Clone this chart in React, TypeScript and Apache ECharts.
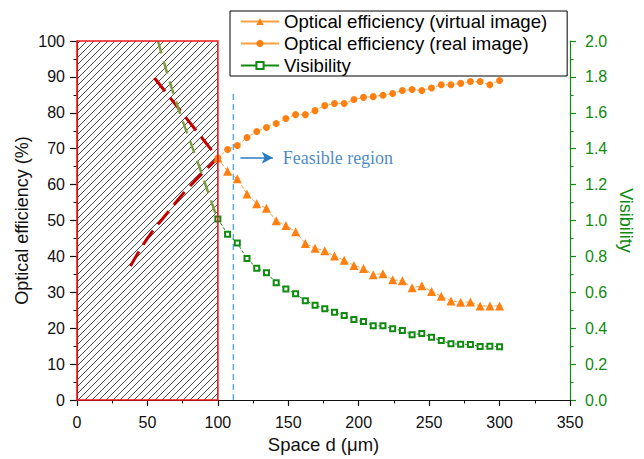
import React, { useEffect, useRef } from "react";
import * as echarts from "echarts";

// ---- data ----
const spaceD = [
  100, 106.9, 113.8, 120.7, 127.6, 134.5, 141.4, 148.3, 155.2, 162.1,
  169.0, 175.9, 182.8, 189.7, 196.6, 203.4, 210.3, 217.2, 224.1, 231.0,
  237.9, 244.8, 251.7, 258.6, 265.5, 272.4, 279.3, 286.2, 293.1, 300,
];
const effVirtual = [
  67.4, 63.7, 61.6, 57.4, 54.7, 53.4, 49.9, 48.6, 46.9, 43.6,
  42.3, 41.6, 40.1, 38.9, 37.5, 36.6, 34.9, 35.2, 33.5, 33.2,
  31.3, 31.8, 30.2, 28.9, 27.6, 27.2, 27.3, 26.2, 26.2, 26.2,
];
const effReal = [
  67.4, 69.8, 70.9, 73.1, 74.8, 75.9, 77.0, 78.4, 79.5, 79.5,
  80.6, 82.0, 82.6, 82.6, 83.7, 84.3, 84.5, 84.9, 85.4, 86.2,
  86.5, 86.2, 86.9, 87.8, 87.8, 88.2, 88.7, 88.7, 87.8, 89.0,
];
const visibility = [
  1.009, 0.924, 0.874, 0.788, 0.734, 0.709, 0.653, 0.619, 0.592, 0.553,
  0.528, 0.508, 0.489, 0.471, 0.448, 0.437, 0.413, 0.413, 0.397, 0.387,
  0.363, 0.370, 0.350, 0.331, 0.313, 0.311, 0.309, 0.298, 0.300, 0.296,
];
// extrapolated trends inside the forbidden region
const virtualTrendX = [55, 100];
const virtualTrendY = [89.7, 67.4];
const realTrendX = [38, 50, 65, 80, 100];
const realTrendY = [37.3, 45, 52.5, 59.5, 67.4];
const visTrendX = [57.5, 70, 85, 100];
const visTrendY = [2.0, 1.67, 1.34, 1.0];
// forbidden region & feasible boundary
const forbiddenX = [0, 100];
const forbiddenY = [0, 100];
const boundaryX = 111;
const boundaryTop = 86;
const arrowFrom = [116, 67.5];
const arrowTo = [139, 67.5];
const feasibleLabelPos = [146, 67.5];

const legendNames = [
  "Optical efficiency (virtual image)",
  "Optical efficiency (real image)",
  "Visibility",
];

const ORANGE = "#ff8010";
const ORANGE_LINE = "#ffa040";
const GREEN = "#108a10";
const SANS = "Liberation Sans, Arial, Helvetica, sans-serif";

const zip = (a: number[], b: number[]) => a.map((v, i) => [v, b[i]]);

export default function App() {
  const ref = useRef<HTMLDivElement>(null);
  useEffect(() => {
    if (!ref.current) return;
    const chart = echarts.init(ref.current, undefined, { renderer: "svg" });
    const option: any = {
      animation: false,
      backgroundColor: "#fff",
      grid: { left: 77, right: 74, top: 41, bottom: 58.5, containLabel: false },
      legend: {
        data: legendNames,
        orient: "vertical",
        left: 230,
        top: 11,
        itemWidth: 38,
        itemHeight: 9,
        itemGap: 3,
        padding: [1, 20, 1, 10],
        borderColor: "#000",
        borderWidth: 1,
        backgroundColor: "#fff",
        lineStyle: { type: "solid" },
        textStyle: { fontFamily: SANS, fontSize: 18.6, color: "#000" },
      },
      xAxis: {
        type: "value",
        min: 0,
        max: 350,
        interval: 50,
        name: "Space d (\u03bcm)",
        nameLocation: "middle",
        nameGap: 35,
        nameMoveOverlap: false,
        nameTextStyle: { fontFamily: SANS, fontSize: 18.5, color: "#111" },
        axisLine: { show: true, onZero: false, lineStyle: { color: "#111", width: 1.2 } },
        axisTick: { show: true, length: 6, lineStyle: { color: "#111", width: 1.2 } },
        minorTick: { show: true, splitNumber: 2, length: 3.5, lineStyle: { color: "#111", width: 1 } },
        axisLabel: { fontFamily: SANS, fontSize: 16, color: "#111", margin: 14 },
        splitLine: { show: false },
      },
      yAxis: [
        {
          type: "value",
          min: 0,
          max: 100,
          interval: 10,
          position: "left",
          name: "Optical efficiency (%)",
          nameLocation: "middle",
          nameGap: 46,
          nameMoveOverlap: false,
          nameTextStyle: { fontFamily: SANS, fontSize: 18, color: "#111" },
          axisLine: { show: true, onZero: false, lineStyle: { color: "#111", width: 1.2 } },
          axisTick: { show: true, length: 7, lineStyle: { color: "#111", width: 1.2 } },
          minorTick: { show: true, splitNumber: 2, length: 3.5, lineStyle: { color: "#111", width: 1 } },
          axisLabel: { fontFamily: SANS, fontSize: 16, color: "#111", margin: 12 },
          splitLine: { show: false },
        },
        {
          type: "value",
          min: 0,
          max: 2,
          interval: 0.2,
          position: "right",
          name: "Visibility",
          nameLocation: "middle",
          nameRotate: -90,
          nameGap: 47,
          nameMoveOverlap: false,
          nameTextStyle: { fontFamily: SANS, fontSize: 18, color: GREEN },
          axisLine: { show: true, onZero: false, lineStyle: { color: GREEN, width: 1.2 } },
          axisTick: { show: true, length: 6, lineStyle: { color: GREEN, width: 1.2 } },
          minorTick: { show: true, splitNumber: 2, length: 3.5, lineStyle: { color: GREEN, width: 1 } },
          axisLabel: {
            fontFamily: SANS,
            fontSize: 16,
            color: GREEN,
            margin: 15,
            formatter: (v: number) => v.toFixed(1),
          },
          splitLine: { show: false },
        },
      ],
      series: [
        {
          type: "custom",
          name: "forbidden",
          silent: true,
          z: 1,
          data: [[forbiddenX[0], forbiddenY[0], forbiddenX[1], forbiddenY[1]]],
          renderItem: (params: any, api: any) => {
            const p0 = api.coord([api.value(0), api.value(1)]);
            const p1 = api.coord([api.value(2), api.value(3)]);
            const x0 = p0[0], yb = p0[1], x1 = p1[0], yt = p1[1];
            const step = 7;
            const children: any[] = [];
            for (let c = x0 + yt + 3; c < x1 + yb; c += step) {
              const xs = Math.max(x0, c - yb);
              const xe = Math.min(x1, c - yt);
              if (xe <= xs) continue;
              children.push({
                type: "line",
                shape: { x1: xs, y1: c - xs, x2: xe, y2: c - xe },
                style: { stroke: "#1a1a1a", lineWidth: 0.8 },
              });
            }
            return { type: "group", children };
          },
        },
        {
          type: "custom",
          name: "forbiddenBorder",
          silent: true,
          z: 10,
          data: [[forbiddenX[0], forbiddenY[0], forbiddenX[1], forbiddenY[1]]],
          renderItem: (params: any, api: any) => {
            const p0 = api.coord([api.value(0), api.value(1)]);
            const p1 = api.coord([api.value(2), api.value(3)]);
            return {
              type: "rect",
              shape: { x: p0[0], y: p1[1], width: p1[0] - p0[0], height: p0[1] - p1[1] },
              style: { fill: "none", stroke: "#f01818", lineWidth: 1.6 },
            };
          },
        },
        {
          type: "line",
          name: "virtualTrend",
          silent: true,
          z: 4,
          data: zip(virtualTrendX, virtualTrendY),
          showSymbol: false,
          symbol: "none",
          lineStyle: { color: "#c40000", width: 3, type: [17, 8] },
        },
        {
          type: "line",
          name: "realTrend",
          silent: true,
          z: 4,
          smooth: true,
          data: zip(realTrendX, realTrendY),
          showSymbol: false,
          symbol: "none",
          lineStyle: { color: "#c40000", width: 3, type: [17, 8] },
        },
        {
          type: "line",
          name: "visTrend",
          silent: true,
          z: 4,
          smooth: true,
          yAxisIndex: 1,
          data: zip(visTrendX, visTrendY),
          showSymbol: false,
          symbol: "none",
          lineStyle: { color: "#7c9e40", width: 2.5, type: [13, 8] },
        },
        {
          type: "line",
          name: "boundary",
          silent: true,
          z: 3,
          data: [[boundaryX, 0], [boundaryX, boundaryTop]],
          showSymbol: false,
          symbol: "none",
          lineStyle: { color: "#62a8de", width: 1.5, type: [6, 4] },
          markLine: {
            silent: true,
            symbol: ["none", "arrow"],
            symbolSize: [9, 11],
            label: { show: false },
            lineStyle: { color: "#2a7cc4", width: 1.6, type: "solid" },
            data: [[{ coord: arrowFrom }, { coord: arrowTo }]],
          },
        },
        {
          type: "scatter",
          name: "feasibleLabel",
          silent: true,
          z: 5,
          symbolSize: 0,
          data: [feasibleLabelPos],
          label: {
            show: true,
            position: "right",
            distance: 0,
            formatter: "Feasible region",
            fontFamily: "Liberation Serif, Times New Roman, serif",
            fontSize: 18,
            color: "#1a6db8",
            verticalAlign: "middle",
          },
        },
        {
          type: "line",
          name: legendNames[0],
          z: 6,
          data: zip(spaceD, effVirtual),
          symbol: "triangle",
          symbolSize: 9,
          itemStyle: { color: ORANGE },
          lineStyle: { color: ORANGE_LINE, width: 1, type: [4, 2] },
        },
        {
          type: "line",
          name: legendNames[1],
          z: 6,
          data: zip(spaceD, effReal),
          symbol: "circle",
          symbolSize: 7,
          itemStyle: { color: ORANGE },
          lineStyle: { color: ORANGE_LINE, width: 1, type: [3, 2] },
        },
        {
          type: "line",
          name: legendNames[2],
          z: 6,
          yAxisIndex: 1,
          data: zip(spaceD, visibility),
          symbol: "emptyRect",
          symbolSize: 5,
          itemStyle: { color: GREEN, borderWidth: 1 },
          lineStyle: { color: GREEN, width: 1, type: [3, 2] },
        },
      ],
    };
    chart.setOption(option);
    return () => chart.dispose();
  }, []);
  return (
    <div
      ref={ref}
      style={{ position: "fixed", left: 0, top: 0, width: 644, height: 459 }}
    />
  );
}
